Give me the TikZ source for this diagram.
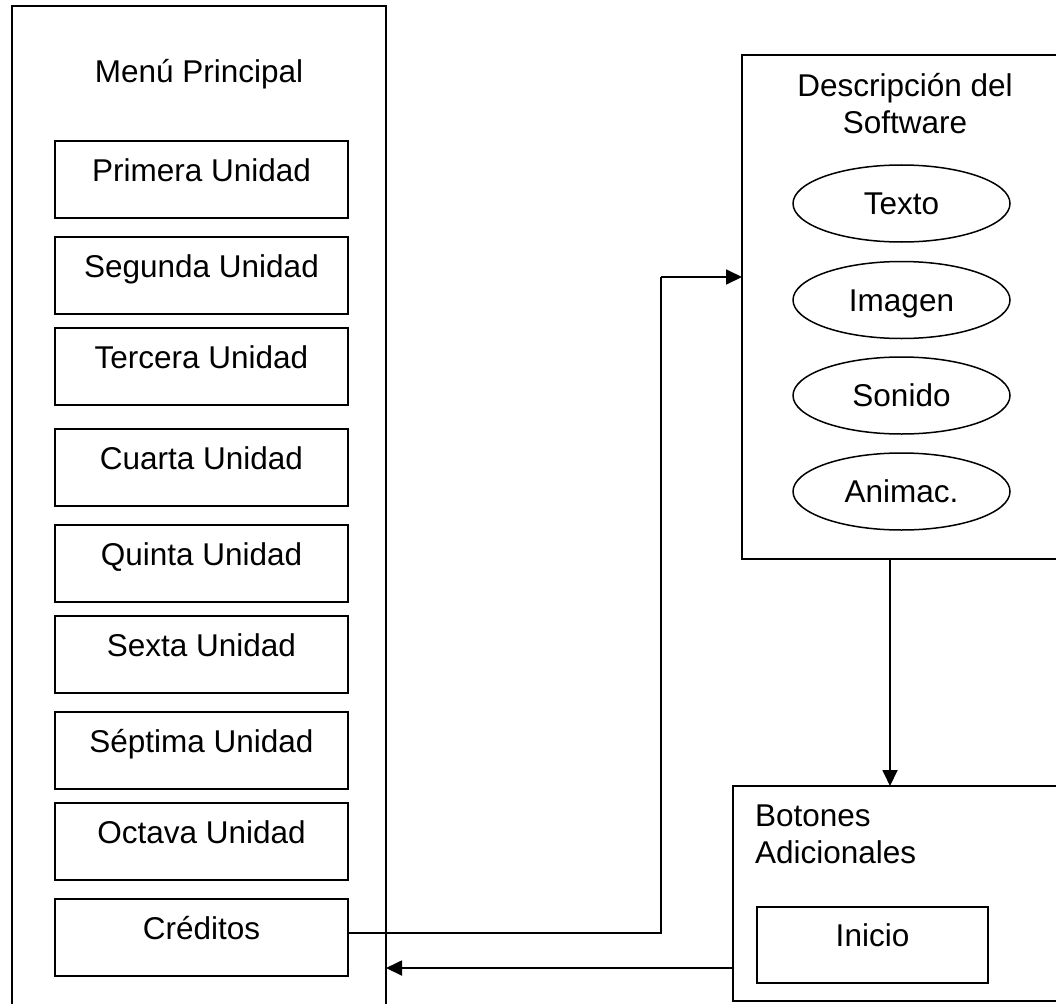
\documentclass[tikz,border=0pt]{standalone}
\usepackage{fontspec}
\setmainfont{Liberation Sans}
\usetikzlibrary{arrows.meta,shapes.geometric}
\begin{document}
\begin{tikzpicture}[x=1pt,y=-1pt,
  every node/.style={inner sep=0pt, outer sep=0pt, font=\fontsize{31.5}{36.6}\selectfont},
  frame/.style={draw, line width=1.8pt, rectangle, anchor=north west},
  unitbox/.style={draw, line width=1.8pt, rectangle, minimum width=293pt,
    minimum height=77pt, text height=22pt, text depth=19pt, anchor=north west},
  media/.style={draw, line width=1.5pt, ellipse, minimum width=217pt,
    minimum height=77pt, text height=22pt, text depth=0pt},
  link/.style={line width=1.8pt},
  flow/.style={line width=1.8pt, -{Triangle[length=16pt,width=15pt]}}
]
\useasboundingbox (0,0) rectangle (1056,1003);
\clip (0,0) rectangle (1056,1003);

% main menu column
\node[frame, minimum width=374pt, minimum height=1000pt] (menu) at (12,6) {};
\node[anchor=base] (menutitle) at (199,83) {Menú Principal};
\node[unitbox] (u1) at (55,141) {Primera Unidad};
\node[unitbox] (u2) at (55,237) {Segunda Unidad};
\node[unitbox] (u3) at (55,328) {Tercera Unidad};
\node[unitbox] (u4) at (55,429) {Cuarta Unidad};
\node[unitbox] (u5) at (55,525) {Quinta Unidad};
\node[unitbox] (u6) at (55,616) {Sexta Unidad};
\node[unitbox] (u7) at (55,712) {Séptima Unidad};
\node[unitbox] (u8) at (55,803) {Octava Unidad};
\node[unitbox] (cred) at (55,899) {Créditos};

% software description
\node[frame, minimum width=326pt, minimum height=504pt] (desc) at (742,55) {};
\node[anchor=base] (desct1) at (905,96.7) {Descripción del};
\node[anchor=base] (desct2) at (905,133.3) {Software};
\node[media] (texto) at (901.5,203.5) {Texto};
\node[media] (imagen) at (901.5,300) {Imagen};
\node[media] (sonido) at (901.5,395.5) {Sonido};
\node[media] (anim) at (901.5,491.5) {Animac.};

% additional buttons
\node[frame, minimum width=337pt, minimum height=215pt] (bot) at (733,786) {};
\node[anchor=base west] (bott1) at (755,826.7) {Botones};
\node[anchor=base west] (bott2) at (755,863.3) {Adicionales};
\node[unitbox, minimum width=231pt, minimum height=76pt] (inicio) at (757,907) {Inicio};

% connectors
\coordinate (bend) at (661,277);
\coordinate (downx) at (890,0);
\coordinate (backy) at (0,968);
\draw[link] ([yshift=4.5pt]cred.east) -| (bend);
\draw[flow] (bend) -- (bend -| desc.west);
\draw[flow] (downx |- desc.south) -- (downx |- bot.north);
\draw[flow] (bot.west |- backy) -- (menu.east |- backy);
\end{tikzpicture}
\end{document}
